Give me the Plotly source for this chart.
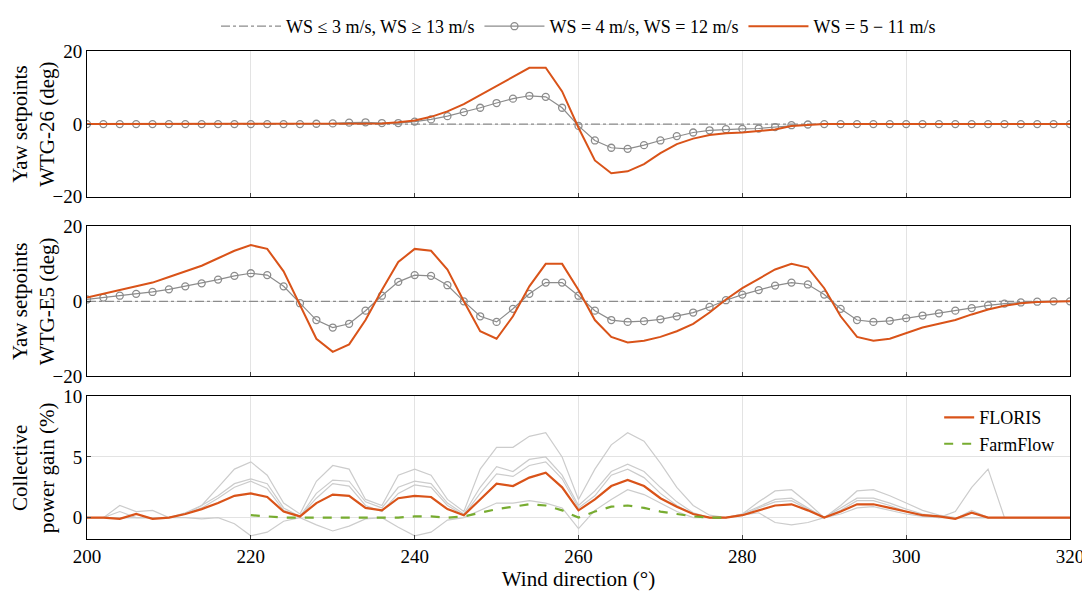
import plotly.graph_objects as go

wd = list(range(200, 321, 2))

# WTG-26 yaw setpoints (deg)
y26_mid = [0]*18 + [0.2, 0.5, 1, 2, 3.5, 5.5, 8, 10.5, 13, 15.5, 15.5, 9, -1, -10, -13.5, -13,
                    -11, -8, -5.5, -4, -3, -2.5, -2.3, -2, -1.5, -0.5, -0.2] + [0]*16
y26_edge = [0]*14 + [0.1, 0.2, 0.4, 0.5, 0.3, 0.3, 0.7, 1.3, 2.2, 3.3, 4.5, 5.8, 7, 7.8, 7.5, 4.5,
                     -0.5, -4.5, -6.5, -6.8, -5.8, -4.5, -3.3, -2.3, -1.7, -1.4, -1.3, -1.2, -0.8,
                     -0.3, -0.1] + [0]*16

# WTG-E5 yaw setpoints (deg)
ye5_mid = [1, 2, 3, 4, 5, 6.5, 8, 9.5, 11.5, 13.5, 15, 14, 8, -1, -10, -13.5, -11.5, -5, 3, 10.5,
           14, 13.5, 8.5, 0, -8, -10, -4, 4, 10, 10, 3, -5, -9.5, -11, -10.5, -9.5, -8, -6, -3,
           0.5, 3.5, 6, 8.5, 10, 9, 3.5, -4, -9.5, -10.5, -10, -8.5, -7, -6, -5, -3.5, -2.2,
           -1.2, -0.5, -0.2, 0, 0]
ye5_edge = [0.5, 1, 1.5, 2, 2.5, 3.2, 4, 4.8, 5.8, 6.8, 7.5, 7, 4, -0.5, -5, -7, -6, -2.5, 1.5,
            5.2, 7, 6.8, 4.3, 0, -4, -5.5, -2, 2, 5, 5, 1.5, -2.5, -5, -5.5, -5.3, -4.8, -4, -3,
            -1.5, 0.3, 1.8, 3, 4.2, 5, 4.5, 1.8, -2, -5, -5.5, -5.2, -4.5, -3.8, -3.2, -2.5,
            -1.8, -1.1, -0.6, -0.3, -0.1, 0, 0]
zeros = [0]*len(wd)

# collective power gain (%)
floris = [0, 0, -0.1, 0.3, -0.1, 0, 0.3, 0.7, 1.2, 1.8, 2.0, 1.7, 0.5, 0.1, 1.2, 1.9, 1.8, 0.8,
          0.6, 1.6, 1.8, 1.7, 0.7, 0.2, 1.5, 2.8, 2.6, 3.3, 3.7, 2.5, 0.6, 1.5, 2.6, 3.1, 2.6,
          1.6, 0.9, 0.3, 0, 0, 0.2, 0.6, 1.0, 1.1, 0.6, 0, 0.5, 1.1, 1.1, 0.8, 0.5, 0.2, 0.1,
          -0.1, 0.4, 0, 0, 0, 0, 0, 0]
wd_ff = list(range(220, 279, 2))
farmflow = [0.2, 0.1, 0, 0, 0, 0, 0, 0, 0, 0, 0.1, 0.1, 0, 0.1, 0.4, 0.7, 0.9, 1.1, 1.0, 0.6,
            0, 0.5, 0.9, 1.0, 0.8, 0.5, 0.3, 0.1, 0, 0]
gain_ws = [
    [0, 0, 0, 0, 0, 0, 0.3, 1, 2.5, 4, 4.6, 3.5, 1.2, 0.3, 3, 4.3, 4, 1.5, 1, 3.5, 4, 3.5, 1.5,
     0.5, 4, 5.8, 5.8, 6.7, 7, 5, 1.5, 4, 6, 7, 6.3, 4.5, 2.5, 1, 0.2, 0, 0.3, 1.3, 2.2, 2.3,
     1.2, 0, 1, 2.2, 2.3, 1.8, 1.2, 0.6, 0.2, 0, 0, 0, 0, 0, 0, 0, 0],
    [0, 0, 0, 0, 0, 0, 0.4, 1, 1.8, 2.8, 3.2, 2.8, 0.8, 0.1, 2, 3.1, 3, 1.3, 0.8, 2.5, 3, 2.8,
     1.2, 0.3, 2.5, 4.2, 3.8, 4.8, 5, 3.5, 1, 2.2, 3.8, 4.4, 3.8, 2.5, 1.3, 0.4, 0, 0, 0.3, 0.9,
     1.5, 1.6, 0.8, 0, 0.8, 1.6, 1.6, 1.2, 0.7, 0.3, 0.1, -0.1, 0.6, 0, 0, 0, 0, 0, 0],
    [0, 0, 0.5, 0, 0, 0, 0, -0.1, 0, -0.5, -1.5, -1.2, -0.3, 0, -0.6, -1.1, -0.7, -0.1, 0, -0.8,
     -1.5, -1.2, -0.2, 0, 0.6, 1.2, 1.2, 1.4, 1.2, 0.8, -0.9, 0.6, 1.5, 2.3, 1.9, 1.2, 0.5, 0,
     0, 0, 0.2, 0.4, -0.4, -0.6, -0.4, 0, 0.3, 0.8, 0.9, 0.6, 0.3, 0.1, 0, 0, 0, 0, 0, 0, 0, 0, 0],
    [0, 0, 1, 0.5, 0.6, 0, 0.3, 0.8, 1.6, 2.5, 3, 2.4, 0.6, 0.1, 1.6, 2.8, 2.6, 1, 0.5, 2, 2.7,
     2.5, 1, 0.2, 2, 3.6, 3.4, 4.3, 4.6, 3.2, 0.8, 1.8, 3.5, 4, 3.3, 2, 1, 0.3, 0, 0, 0.2, 0.8,
     1.3, 1.4, 0.7, 0, 0.6, 1.4, 1.4, 1, 0.5, 0.2, 0, 0.5, 2.5, 4, 0, 0, 0, 0, 0],
]

ORANGE = "#d95319"
GREY = "#8c8c8c"
GREEN = "#77ac30"
FONT = "Liberation Serif"

fig = go.Figure()
for i, (mid, edge) in enumerate([(y26_mid, y26_edge), (ye5_mid, ye5_edge)]):
    ya = "y" if i == 0 else "y2"
    xa = "x2" if i == 0 else "x3"
    first = i == 0
    fig.add_trace(go.Scatter(x=wd, y=zeros, xaxis=xa, yaxis=ya, mode="lines", showlegend=first,
                             name="WS ≤ 3 m/s, WS ≥ 13 m/s",
                             line=dict(color=GREY, width=1.2, dash="dashdot")))
    fig.add_trace(go.Scatter(x=wd, y=edge, xaxis=xa, yaxis=ya, mode="lines+markers",
                             showlegend=first, name="WS = 4 m/s, WS = 12 m/s",
                             line=dict(color=GREY, width=1.2),
                             marker=dict(symbol="circle-open", size=7, color=GREY,
                                         line=dict(width=1.3))))
    fig.add_trace(go.Scatter(x=wd, y=mid, xaxis=xa, yaxis=ya, mode="lines", showlegend=first,
                             name="WS = 5 − 11 m/s", line=dict(color=ORANGE, width=2)))

for g in gain_ws:
    fig.add_trace(go.Scatter(x=wd, y=g, yaxis="y3", mode="lines", showlegend=False,
                             line=dict(color="#cccccc", width=1.2)))
fig.add_trace(go.Scatter(x=wd, y=floris, yaxis="y3", mode="lines", name="FLORIS",
                         legend="legend2", line=dict(color=ORANGE, width=2.2)))
fig.add_trace(go.Scatter(x=wd_ff, y=farmflow, yaxis="y3", mode="lines", name="FarmFlow",
                         legend="legend2", line=dict(color=GREEN, width=2.2, dash="dash")))

ax = dict(showline=True, linecolor="black", linewidth=1, mirror=True, ticks="inside",
          ticklen=4, gridcolor="#e3e3e3", zeroline=False, tickfont=dict(size=19))
ttl = dict(size=21)
fig.update_layout(
    width=1090, height=595, plot_bgcolor="white", paper_bgcolor="white",
    font=dict(family=FONT, size=18, color="black"),
    margin=dict(l=73, r=28, t=0, b=0),
    xaxis=dict(**ax, range=[200, 320], dtick=20, anchor="y3",
               title=dict(text="Wind direction (°)", font=ttl, standoff=2)),
    xaxis2=dict(**ax, range=[200, 320], dtick=20, anchor="y", showticklabels=False, matches="x"),
    xaxis3=dict(**ax, range=[200, 320], dtick=20, anchor="y2", showticklabels=False, matches="x"),
    yaxis=dict(**ax, range=[-20, 20], tickvals=[-20, 0, 20], domain=[0.707, 0.967],
               title=dict(text="Yaw setpoints<br>WTG-26 (deg)", font=ttl, standoff=2)),
    yaxis2=dict(**ax, range=[-20, 20], tickvals=[-20, 0, 20], domain=[0.386, 0.654],
                title=dict(text="Yaw setpoints<br>WTG-E5 (deg)", font=ttl, standoff=2)),
    yaxis3=dict(**ax, range=[-1.8, 10], tickvals=[0, 5, 10], domain=[0.094, 0.350],
                title=dict(text="Collective<br>power gain (%)", font=ttl, standoff=2)),
    legend=dict(orientation="h", x=0.5, xanchor="center", y=1.045, yanchor="top",
                font=dict(size=18), bgcolor="rgba(0,0,0,0)", itemwidth=60),
    legend2=dict(x=0.99, xanchor="right", y=0.345, yanchor="top",
                 font=dict(size=18), bgcolor="rgba(0,0,0,0)"),
)

fig.write_html("out.html")
